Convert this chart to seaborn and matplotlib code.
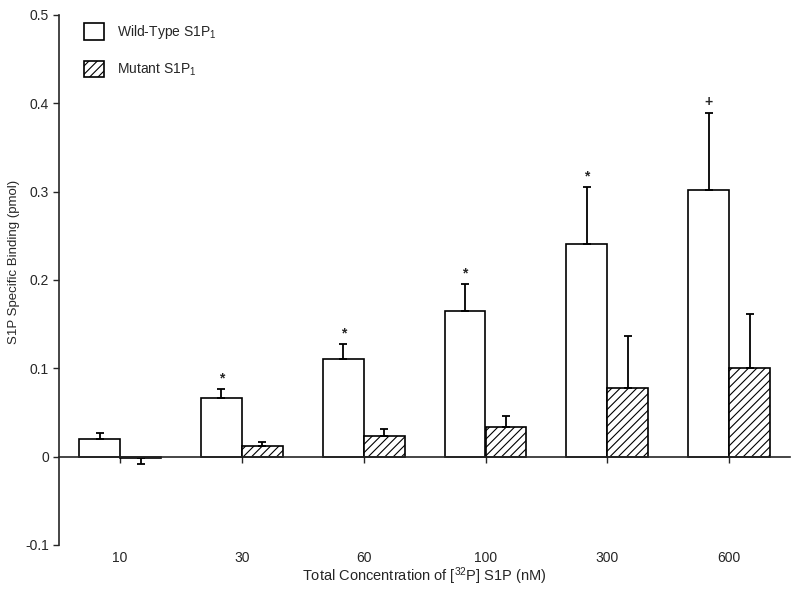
import numpy as np
import pandas as pd
import matplotlib
matplotlib.use('Agg')
import matplotlib.pyplot as plt
from matplotlib.patches import Patch
import seaborn as sns

# values (pmol)
concentrations = ['10', '30', '60', '100', '300', '600']
wild_type = [0.020, 0.066, 0.110, 0.165, 0.241, 0.302]
wild_type_err = [0.007, 0.010, 0.017, 0.030, 0.064, 0.087]
mutant = [-0.002, 0.012, 0.023, 0.034, 0.078, 0.100]
mutant_err = [0.006, 0.005, 0.008, 0.012, 0.059, 0.061]
significance = ['', '*', '*', '*', '*', '+']
groups = ['Wild-Type S1P$_1$', 'Mutant S1P$_1$']

sns.set_style('ticks')
plt.rcParams['font.family'] = ['Liberation Sans', 'DejaVu Sans']
plt.rcParams['mathtext.default'] = 'regular'
plt.rcParams['hatch.linewidth'] = 0.8

df = pd.DataFrame({
    'conc': concentrations * 2,
    'value': wild_type + mutant,
    'group': [groups[0]] * len(concentrations) + [groups[1]] * len(concentrations),
})

fig = plt.figure(figsize=(8, 5.94), dpi=100)
ax = fig.add_axes([0.074, 0.0825, 0.9135, 0.8925])

sns.barplot(data=df, x='conc', y='value', hue='group', hue_order=groups,
            order=concentrations, palette=['white', 'white'], edgecolor='black',
            linewidth=1.2, width=0.672, errorbar=None, legend=False, ax=ax)

n = len(concentrations)
bars = ax.patches[:2 * n]
for p in bars[n:]:
    p.set_hatch('////')

# error bars pointing away from zero
for k, (vals, errs) in enumerate([(wild_type, wild_type_err), (mutant, mutant_err)]):
    xs = [b.get_x() + b.get_width() / 2 for b in bars[k * n:(k + 1) * n]]
    lower = [e if v < 0 else 0 for v, e in zip(vals, errs)]
    upper = [0 if v < 0 else e for v, e in zip(vals, errs)]
    ax.errorbar(xs, vals, yerr=[lower, upper], fmt='none', ecolor='black',
                elinewidth=1.3, capsize=3, capthick=1.3)
    if k == 0:
        for x, v, e, s in zip(xs, vals, errs, significance):
            if s:
                ax.annotate(s, (x, v + e), xytext=(0, 3), textcoords='offset points',
                            ha='center', va='bottom', fontsize=10, fontweight='bold')

ax.set_xlim(-0.5, n - 0.5)
ax.set_ylim(-0.1, 0.5)
ax.set_yticks([0.5, 0.4, 0.3, 0.2, 0.1, 0, -0.1])
ax.set_yticklabels(['0.5', '0.4', '0.3', '0.2', '0.1', '0', '-0.1'], fontsize=10)
ax.spines['top'].set_visible(False)
ax.spines['right'].set_visible(False)
ax.spines['bottom'].set_position(('data', 0))
ax.spines['left'].set_linewidth(1.2)
ax.spines['bottom'].set_linewidth(1.2)
ax.tick_params(axis='x', direction='out', length=4, width=1, pad=64, labelsize=10)
ax.tick_params(axis='y', direction='out', length=4, width=1, labelsize=10)

ax.set_xlabel('Total Concentration of [$^{32}$P] S1P (nM)', fontsize=10.5, labelpad=0)
ax.set_ylabel('S1P Specific Binding (pmol)', fontsize=9.5)
ax.yaxis.set_label_coords(-0.053, 0.534)

handles = [Patch(facecolor='white', edgecolor='black', linewidth=1.2),
           Patch(facecolor='white', edgecolor='black', linewidth=1.2, hatch='////')]
ax.legend(handles, groups, loc='upper left', bbox_to_anchor=(0.017, 1.008),
          frameon=False, fontsize=10, handlelength=1.4, handleheight=1.4,
          labelspacing=1.4, handletextpad=0.95)

fig.savefig('out.png', dpi=100)
